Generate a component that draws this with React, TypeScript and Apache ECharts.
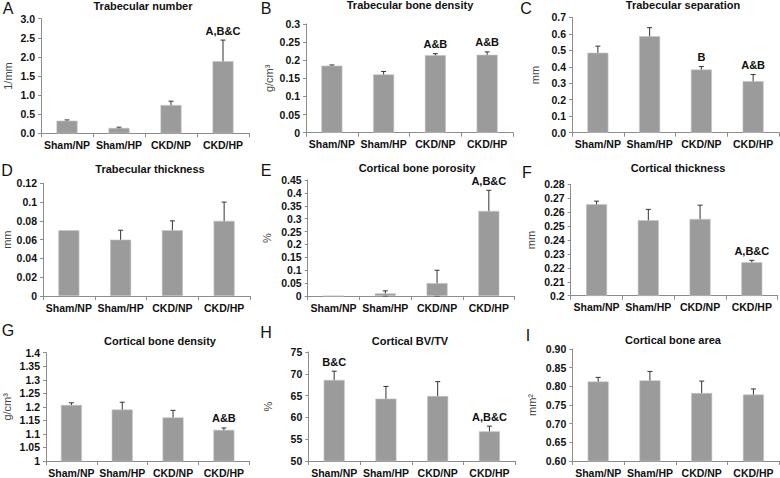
import React, { useEffect, useRef } from "react";
import * as echarts from "echarts";

const categories = ["Sham/NP", "Sham/HP", "CKD/NP", "CKD/HP"];

const letters = ["A", "B", "C", "D", "E", "F", "G", "H", "I"];
const titles = [
  "Trabecular number",
  "Trabecular bone density",
  "Trabecular separation",
  "Trabecular thickness",
  "Cortical bone porosity",
  "Cortical thickness",
  "Cortical bone density",
  "Cortical BV/TV",
  "Cortical bone area",
];
const units = ["1/mm", "g/cm³", "mm", "mm", "%", "mm", "g/cm³", "%", "mm²"];

const meanA = [0.33, 0.14, 0.74, 1.89];
const errA = [0.02, 0.02, 0.1, 0.55];
const noteA = ["", "", "", "A,B&C"];
const ticksA = ["0.0", "0.5", "1.0", "1.5", "2.0", "2.5", "3.0"];

const meanB = [0.185, 0.161, 0.214, 0.215];
const errB = [0.002, 0.008, 0.004, 0.008];
const noteB = ["", "", "A&B", "A&B"];
const ticksB = ["0", "0.05", "0.1", "0.15", "0.2", "0.25", "0.3"];

const meanC = [0.485, 0.585, 0.383, 0.313];
const errC = [0.04, 0.052, 0.018, 0.04];
const noteC = ["", "", "B", "A&B"];
const ticksC = ["0.0", "0.1", "0.2", "0.3", "0.4", "0.5", "0.6", "0.7"];

const meanD = [0.07, 0.06, 0.07, 0.08];
const errD = [0, 0.01, 0.01, 0.02];
const noteD = ["", "", "", ""];
const ticksD = ["0", "0.02", "0.04", "0.06", "0.08", "0.1", "0.12"];

const meanE = [0, 0.01, 0.05, 0.33];
const errE = [0, 0.01, 0.05, 0.08];
const noteE = ["", "", "", "A,B&C"];
const ticksE = ["0", "0.05", "0.1", "0.15", "0.2", "0.25", "0.3", "0.35", "0.4", "0.45"];

const meanF = [0.2657, 0.2542, 0.2551, 0.224];
const errF = [0.0022, 0.0078, 0.0099, 0.0014];
const noteF = ["", "", "", "A,B&C"];
const ticksF = ["0.2", "0.21", "0.22", "0.23", "0.24", "0.25", "0.26", "0.27", "0.28"];

const meanG = [1.207, 1.19, 1.161, 1.115];
const errG = [0.008, 0.027, 0.026, 0.007];
const noteG = ["", "", "", "A&B"];
const ticksG = ["1", "1.05", "1.1", "1.15", "1.2", "1.25", "1.3", "1.35", "1.4"];

const meanH = [68.6, 64.3, 64.9, 56.8];
const errH = [2.0, 2.8, 3.3, 1.2];
const noteH = ["B&C", "", "", "A,B&C"];
const ticksH = ["50", "55", "60", "65", "70", "75"];

const meanI = [0.813, 0.816, 0.782, 0.778];
const errI = [0.011, 0.024, 0.032, 0.015];
const noteI = ["", "", "", ""];
const ticksI = ["0.60", "0.65", "0.70", "0.75", "0.80", "0.85", "0.90"];

const panels = [
  { mean: meanA, err: errA, note: noteA, ticks: ticksA },
  { mean: meanB, err: errB, note: noteB, ticks: ticksB },
  { mean: meanC, err: errC, note: noteC, ticks: ticksC },
  { mean: meanD, err: errD, note: noteD, ticks: ticksD },
  { mean: meanE, err: errE, note: noteE, ticks: ticksE },
  { mean: meanF, err: errF, note: noteF, ticks: ticksF },
  { mean: meanG, err: errG, note: noteG, ticks: ticksG },
  { mean: meanH, err: errH, note: noteH, ticks: ticksH },
  { mean: meanI, err: errI, note: noteI, ticks: ticksI },
];

// layout: grid [left, top, width, height], name gap, title pos, letter pos
const layout = [
  { grid: [41, 18.7, 208, 114.6], gap: 28, title: [143, 6], letter: [8, 8] },
  { grid: [306, 24, 207, 108.7], gap: 32, title: [410, 5], letter: [266, 8] },
  { grid: [572, 17.3, 207, 115.4], gap: 32, title: [683, 5], letter: [526, 8] },
  { grid: [42, 183.3, 208, 112.7], gap: 31, title: [150, 169], letter: [7, 170] },
  { grid: [307.7, 180, 207, 116], gap: 35, title: [417, 168], letter: [266, 170] },
  { grid: [570.7, 184.3, 207, 111.4], gap: 34, title: [678, 168], letter: [527, 172] },
  { grid: [42.3, 352.7, 207, 110.6], gap: 34, title: [160, 341], letter: [8, 330] },
  { grid: [308.3, 352, 207, 111.3], gap: 35, title: [410, 341], letter: [266, 332] },
  { grid: [572.3, 349, 207, 114.3], gap: 35, title: [673, 340], letter: [528, 335] },
];

const FONT = "Arial, 'Liberation Sans', Helvetica, sans-serif";
const BAR = "#9b9b9b";
const AXIS = "#8c8c8c";

function round6(x: number) {
  return Math.round(x * 1e6) / 1e6;
}

export default function App() {
  const ref = useRef<HTMLDivElement>(null);
  useEffect(() => {
    if (!ref.current) return;
    const chart = echarts.init(ref.current, null, { renderer: "svg" });

    const grids: any[] = [];
    const xAxes: any[] = [];
    const yAxes: any[] = [];
    const series: any[] = [];
    const graphics: any[] = [];

    panels.forEach((p, i) => {
      const L = layout[i];
      const [left, top, width, height] = L.grid;
      grids.push({ left, top, width, height, containLabel: false });
      const tickVals = p.ticks.map((t) => parseFloat(t));
      const min = tickVals[0];
      const max = tickVals[tickVals.length - 1];
      const interval = round6(tickVals[1] - tickVals[0]);
      xAxes.push({
        type: "category",
        gridIndex: i,
        data: categories,
        axisLine: { lineStyle: { color: AXIS, width: 1 } },
        axisTick: { show: true, length: 4, lineStyle: { color: AXIS } },
        axisLabel: {
          color: "#111",
          fontWeight: "bold",
          fontSize: 10.5,
          fontFamily: FONT,
          margin: 6,
          interval: 0,
        },
      });
      yAxes.push({
        type: "value",
        gridIndex: i,
        min,
        max,
        interval,
        name: units[i],
        nameLocation: "middle",
        nameGap: L.gap,
        nameRotate: 90,
        nameTextStyle: { color: "#444", fontSize: 11, fontFamily: FONT },
        axisLine: { show: true, lineStyle: { color: AXIS, width: 1 } },
        axisTick: { show: true, length: 3, lineStyle: { color: AXIS } },
        splitLine: { show: false },
        axisLabel: {
          color: "#111",
          fontWeight: "bold",
          fontSize: 10.5,
          fontFamily: FONT,
          margin: 6,
          formatter: (v: number) => {
            const idx = tickVals.findIndex((t) => Math.abs(t - v) < 1e-9);
            return idx >= 0 ? p.ticks[idx] : "";
          },
        },
      });
      series.push({
        type: "bar",
        xAxisIndex: i,
        yAxisIndex: i,
        data: p.mean,
        barWidth: 21,
        itemStyle: { color: BAR, borderColor: "#c4c4c4", borderWidth: 0.6 },
        silent: true,
      });
      series.push({
        type: "custom",
        xAxisIndex: i,
        yAxisIndex: i,
        data: p.mean.map((m, k) => [k, m, p.err[k], p.note[k]]),
        encode: { x: 0, y: 1 },
        clip: false,
        silent: true,
        renderItem: (params: any, api: any) => {
          const k = api.value(0);
          const m = api.value(1);
          const e = api.value(2);
          const note = p.note[k];
          const children: any[] = [];
          const top = api.coord([k, m + e]);
          const bot = api.coord([k, m - e]);
          const cx = top[0];
          if (e > 0) {
            const ls = { stroke: "#333", lineWidth: 1 };
            children.push({ type: "line", shape: { x1: cx, y1: top[1], x2: cx, y2: bot[1] }, style: ls });
            children.push({ type: "line", shape: { x1: cx - 2.5, y1: top[1], x2: cx + 2.5, y2: top[1] }, style: ls });
            children.push({ type: "line", shape: { x1: cx - 2.5, y1: bot[1], x2: cx + 2.5, y2: bot[1] }, style: ls });
          }
          if (note) {
            children.push({
              type: "text",
              x: cx,
              y: top[1] - 4,
              style: {
                text: note,
                fill: "#111",
                font: `bold 11px ${FONT}`,
                textAlign: "center",
                textVerticalAlign: "bottom",
                align: "center",
                verticalAlign: "bottom",
              },
            });
          }
          return { type: "group", children };
        },
      });
      graphics.push({
        type: "text",
        x: L.title[0],
        y: L.title[1],
        style: {
          text: titles[i],
          fill: "#111",
          font: `bold 11px ${FONT}`,
          textAlign: "center",
          textVerticalAlign: "middle",
        },
      });
      graphics.push({
        type: "text",
        x: L.letter[0],
        y: L.letter[1],
        style: {
          text: letters[i],
          fill: "#111",
          font: `16px ${FONT}`,
          textAlign: "center",
          textVerticalAlign: "middle",
        },
      });
    });

    chart.setOption({
      animation: false,
      backgroundColor: "#ffffff",
      grid: grids,
      xAxis: xAxes,
      yAxis: yAxes,
      series,
      graphic: graphics,
    });
    return () => chart.dispose();
  }, []);
  return (
    <div
      ref={ref}
      style={{ position: "fixed", left: 0, top: 0, width: 780, height: 478, background: "#fff" }}
    />
  );
}
